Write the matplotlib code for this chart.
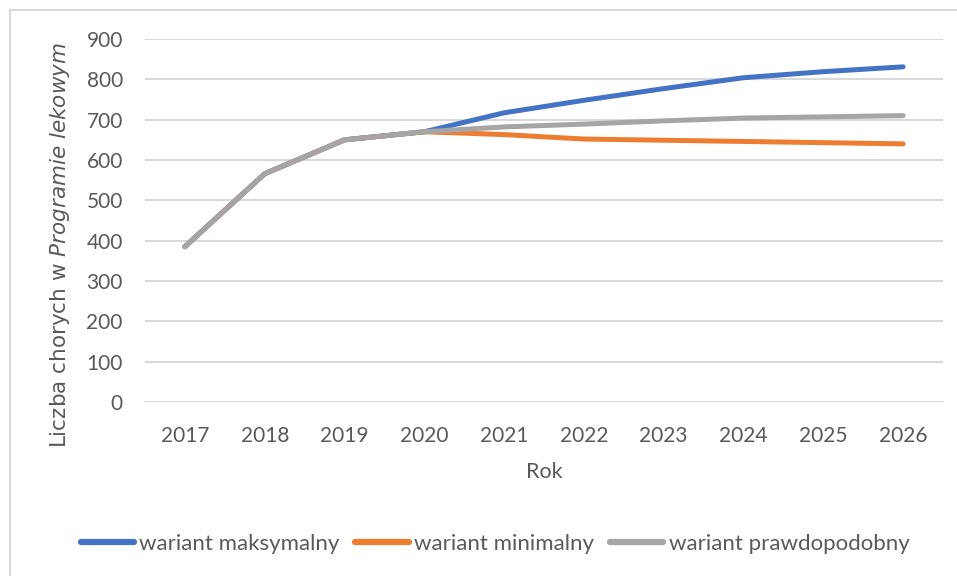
import matplotlib
matplotlib.use("Agg")
import matplotlib.pyplot as plt
from matplotlib.patches import Rectangle

years = ["2017", "2018", "2019", "2020", "2021", "2022", "2023", "2024", "2025", "2026"]
wariant_maksymalny = [385, 566, 650, 670, 717, 748, 777, 804, 819, 831]
wariant_minimalny = [385, 566, 650, 670, 663, 652, 649, 646, 643, 640]
wariant_prawdopodobny = [385, 566, 650, 670, 682, 689, 697, 704, 707, 710]
y_ticks = [0, 100, 200, 300, 400, 500, 600, 700, 800, 900]

FONT = "Lato"
plt.rcParams['font.family'] = [FONT, 'DejaVu Sans']
plt.rcParams['mathtext.fontset'] = 'custom'
plt.rcParams['mathtext.rm'] = 'DejaVu Sans'
plt.rcParams['mathtext.it'] = 'DejaVu Sans:italic'
TXT = "#595959"

W, H = 957, 576
fig = plt.figure(figsize=(W / 100, H / 100), dpi=100)
fig.patches.append(Rectangle((10 / W, -0.5), 2, 1.5 - 10 / H, transform=fig.transFigure,
                             fill=False, edgecolor="#D9D9D9", linewidth=1.5))
ax = fig.add_axes([145 / W, 1 - 402 / H, (943 - 145) / W, (402 - 39) / H])

x = list(range(len(years)))
ax.plot(x, wariant_maksymalny, color="#4472C4", lw=3.6, solid_capstyle="round", label="wariant maksymalny")
ax.plot(x, wariant_minimalny, color="#ED7D31", lw=3.6, solid_capstyle="round", label="wariant minimalny")
ax.plot(x, wariant_prawdopodobny, color="#A5A5A5", lw=3.6, solid_capstyle="round", label="wariant prawdopodobny")

ax.set_xlim(-0.5, len(years) - 0.5)
ax.set_ylim(0, 900)
ax.set_yticks(y_ticks)
ax.set_xticks(x)
ax.set_xticklabels(years)
ax.grid(axis="y", color="#D9D9D9", lw=1.5)
ax.set_axisbelow(True)
for s in ax.spines.values():
    s.set_visible(False)
ax.tick_params(axis="both", length=0, labelsize=15, colors=TXT)
ax.tick_params(axis="y", pad=16)
ax.tick_params(axis="x", pad=17)

fig.text(60 / W, 1 - 245 / H, r"Liczba chorych w $\mathit{Programie\ lekowym}$",
         rotation=90, ha="center", va="center", fontsize=15.5, color=TXT,
         family="DejaVu Sans")
fig.text(544 / W, 1 - 472 / H, "Rok", ha="center", va="center", fontsize=15.5, color=TXT)

leg = ax.legend(loc="center", bbox_to_anchor=(495 / W, 1 - 544 / H), bbox_transform=fig.transFigure,
                ncol=3, frameon=False, fontsize=16, handlelength=2.4, handletextpad=0.25,
                columnspacing=0.7, labelcolor=TXT)
for l in leg.get_lines():
    l.set_linewidth(4.5)

fig.savefig("out.png", dpi=100)
